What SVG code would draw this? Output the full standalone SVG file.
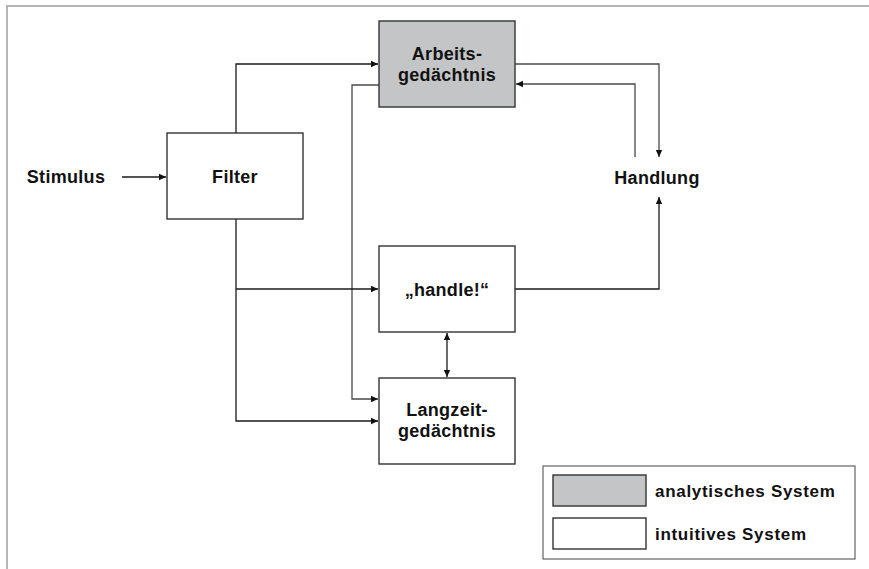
<svg xmlns="http://www.w3.org/2000/svg" width="869" height="569" viewBox="0 0 869 569">
  <style>
    .box { stroke: #333; stroke-width: 1.4; }
    .ana { fill: #c4c5c7; }
    .int { fill: #ffffff; }
    .lbl { font-family: "Liberation Sans", Arial, sans-serif; font-weight: bold; font-size: 18px; letter-spacing: 0.3px; fill: #111; text-anchor: middle; }
    .leg { font-family: "Liberation Sans", Arial, sans-serif; font-weight: bold; font-size: 17px; letter-spacing: 0.7px; fill: #111; }
    .wire { fill: none; stroke: #1a1a1a; stroke-width: 1.3; }
    .wire.soft { stroke: #4a4a4a; }
  </style>
  <defs>
    <marker id="ah" markerWidth="8" markerHeight="8" refX="7" refY="4" orient="auto" markerUnits="userSpaceOnUse">
      <path d="M0,0.8 L7,4 L0,7.2 Z" fill="#111"/>
    </marker>
    <marker id="ah-start" markerWidth="8" markerHeight="8" refX="1" refY="4" orient="auto" markerUnits="userSpaceOnUse">
      <path d="M8,0.8 L1,4 L8,7.2 Z" fill="#111"/>
    </marker>
  </defs>

  <rect width="869" height="569" fill="#ffffff"/>
  <!-- frame -->
  <path d="M7,569 V6 H869" fill="none" stroke="#b5b5b5" stroke-width="2"/>

  <g id="connectors">
    <path class="wire" d="M122,177 H166" marker-end="url(#ah)"/>
    <path class="wire" d="M236,133 V64 H378" marker-end="url(#ah)"/>
    <path class="wire soft" d="M379,85 H352 V399 H378" marker-end="url(#ah)"/>
    <path class="wire" d="M236,219 V421 H378" marker-end="url(#ah)"/>
    <path class="wire" d="M236,289 H378" marker-end="url(#ah)"/>
    <path class="wire soft" d="M515,64 H659 V157" marker-end="url(#ah)"/>
    <path class="wire soft" d="M635,157 V84 H516" marker-end="url(#ah)"/>
    <path class="wire" d="M515,289 H659 V197" marker-end="url(#ah)"/>
    <path class="wire" d="M447,333 V377" marker-start="url(#ah-start)" marker-end="url(#ah)"/>
  </g>

  <g id="stimulus">
    <text class="lbl" x="66" y="183">Stimulus</text>
  </g>

  <g id="filter">
    <rect class="box int" x="167" y="133" width="136" height="86"/>
    <text class="lbl" x="235" y="183">Filter</text>
  </g>

  <g id="arbeitsgedaechtnis">
    <rect class="box ana" x="379" y="21" width="136" height="86"/>
    <text class="lbl" x="447" y="60">Arbeits-</text>
    <text class="lbl" x="447" y="81">gedächtnis</text>
  </g>

  <g id="handle">
    <rect class="box int" x="379" y="246" width="136" height="86"/>
    <text class="lbl" x="447" y="296">„handle!“</text>
  </g>

  <g id="langzeitgedaechtnis">
    <rect class="box int" x="379" y="378" width="136" height="86"/>
    <text class="lbl" x="447" y="416">Langzeit-</text>
    <text class="lbl" x="447" y="437">gedächtnis</text>
  </g>

  <g id="handlung">
    <text class="lbl" x="657" y="184">Handlung</text>
  </g>

  <g id="legend">
    <rect x="543" y="466" width="312" height="93" fill="#fff" stroke="#444" stroke-width="1"/>
    <rect class="box ana" x="553" y="475" width="93" height="31"/>
    <text class="leg" x="655" y="497">analytisches System</text>
    <rect class="box int" x="553" y="518" width="93" height="31"/>
    <text class="leg" x="655" y="540">intuitives System</text>
  </g>
</svg>
